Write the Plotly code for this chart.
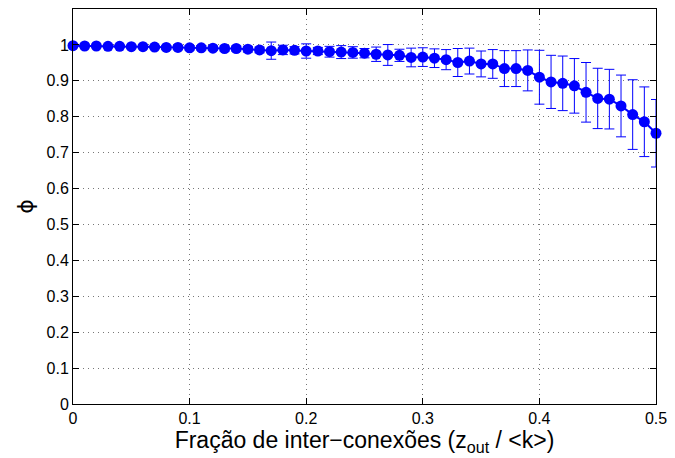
import plotly.graph_objects as go

x_vals = [round(i * 0.01, 2) for i in range(51)]
phi = [0.998, 0.997, 0.997, 0.996, 0.996, 0.995, 0.995, 0.994, 0.993, 0.993,
       0.992, 0.992, 0.991, 0.990, 0.990, 0.988, 0.986, 0.984, 0.986, 0.985,
       0.983, 0.983, 0.981, 0.980, 0.979, 0.977, 0.974, 0.972, 0.971, 0.965,
       0.966, 0.963, 0.959, 0.951, 0.955, 0.947, 0.947, 0.934, 0.934, 0.929,
       0.910, 0.897, 0.893, 0.886, 0.868, 0.851, 0.849, 0.830, 0.806, 0.786,
       0.754]
err = [0.001, 0.002, 0.002, 0.002, 0.003, 0.003, 0.003, 0.004, 0.005, 0.005,
       0.006, 0.006, 0.006, 0.007, 0.007, 0.008, 0.008, 0.024, 0.013, 0.010,
       0.020, 0.010, 0.015, 0.018, 0.016, 0.013, 0.020, 0.029, 0.017, 0.026,
       0.026, 0.026, 0.028, 0.039, 0.036, 0.036, 0.040, 0.050, 0.050, 0.057,
       0.075, 0.074, 0.076, 0.076, 0.083, 0.084, 0.083, 0.086, 0.097, 0.097,
       0.094]
x_ticks = [0, 0.1, 0.2, 0.3, 0.4, 0.5]
x_tick_labels = ["0", "0.1", "0.2", "0.3", "0.4", "0.5"]
y_ticks = [0, 0.1, 0.2, 0.3, 0.4, 0.5, 0.6, 0.7, 0.8, 0.9, 1.0]
y_tick_labels = ["0", "0.1", "0.2", "0.3", "0.4", "0.5", "0.6", "0.7", "0.8", "0.9", "1"]

FONT = "Liberation Sans, Arial, Helvetica, sans-serif"

fig = go.Figure()
fig.add_trace(go.Scatter(
    x=x_vals, y=phi, mode="lines+markers",
    line=dict(color="#0000FF", width=2),
    marker=dict(color="#0000FF", size=11),
    error_y=dict(type="data", array=err, visible=True, color="#0000FF",
                 thickness=1, width=5),
    cliponaxis=False, showlegend=False,
))

axis_common = dict(
    showline=True, linecolor="black", linewidth=1, mirror="ticks",
    ticks="inside", ticklen=6, tickcolor="black",
    showgrid=True, gridcolor="#777777", griddash="1px,4px", gridwidth=1,
    zeroline=False,
    tickfont=dict(family=FONT, size=16, color="black"),
)

fig.update_xaxes(range=[0, 0.5], tickvals=x_ticks, ticktext=x_tick_labels,
                 title=dict(text="Fração de inter−conexões (z<sub>out</sub> / &lt;k&gt;)",
                            font=dict(family=FONT, size=23, color="black"),
                            standoff=3),
                 **axis_common)
fig.update_yaxes(range=[0, 1.1], tickvals=y_ticks, ticktext=y_tick_labels,
                 title=dict(text="ϕ",
                            font=dict(family="DejaVu Sans, sans-serif", size=22, color="black"),
                            standoff=6),
                 **axis_common)

fig.update_layout(
    width=675, height=458,
    margin=dict(l=73, r=15, t=8, b=54),
    plot_bgcolor="white", paper_bgcolor="white",
)

fig.write_html("out.html", config={"displayModeBar": False},
               post_script="document.body.style.margin='0';")
